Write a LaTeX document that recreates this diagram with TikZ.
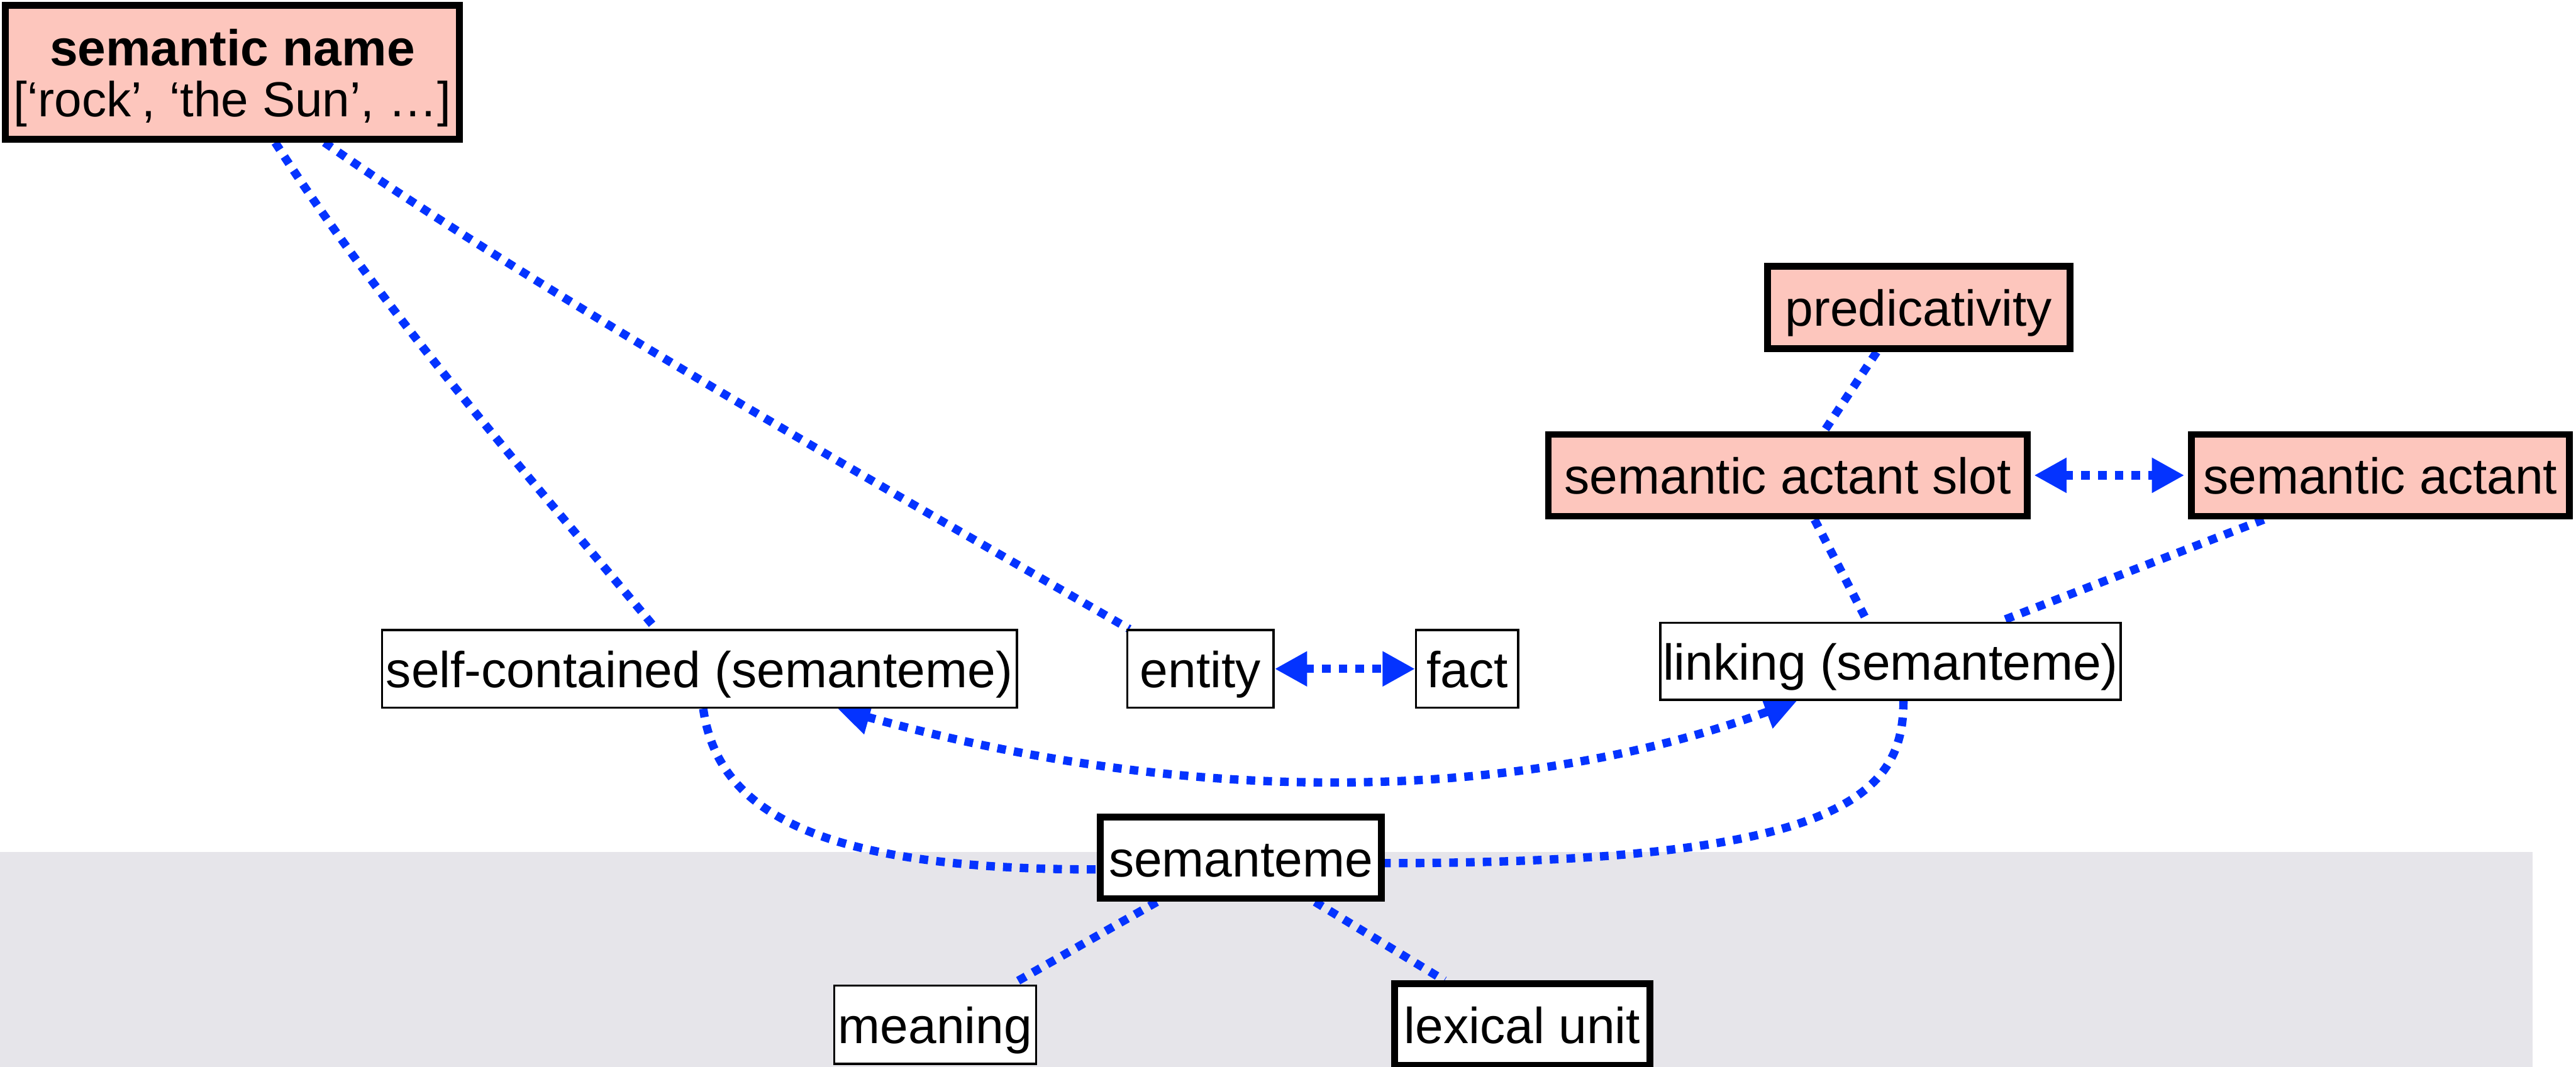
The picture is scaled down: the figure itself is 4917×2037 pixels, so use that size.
\documentclass[tikz,border=0pt]{standalone}
\usepackage{fontspec}
\setmainfont{Liberation Sans}
\usetikzlibrary{arrows.meta,calc}
\definecolor{linkblue}{RGB}{4,51,255}
\definecolor{notepink}{RGB}{253,198,189}
\definecolor{bandgray}{RGB}{230,229,234}
\pgfdeclarelayer{band}
\pgfdeclarelayer{links}
\pgfsetlayers{band,links,main}
\begin{document}
\begin{tikzpicture}[x=0.2pt,y=-0.2pt,
  box/.style={rectangle, inner sep=0pt, fill=white,
    font=\fontsize{19.3}{19.6}\selectfont, text height=14.4pt, text depth=0pt},
  heavy/.style={box, draw=black, line width=2.6pt},
  light/.style={box, draw=black, line width=0.8pt},
  pinkbox/.style={heavy, fill=notepink},
  bluelink/.style={draw=linkblue, line width=3.2pt, dash pattern=on 3.3pt off 3.1pt},
  twotips/.style={{Triangle[length=12.4pt,width=12.6pt]}-{Triangle[length=12.4pt,width=12.6pt]}},
]
\useasboundingbox (0,0) rectangle (4917,2037);

% background and the shaded lower band
\begin{pgfonlayer}{band}
  \fill[white] (0,0) rectangle (4917,2037);
  \fill[bandgray] (0,1627) rectangle (4834,2037);
\end{pgfonlayer}

% concepts
\node[pinkbox, minimum width=173.2pt, minimum height=51pt, text height=34pt, text depth=0pt]
  (sn) at (443.5,138)
  {\begin{tabular}[b]{@{}c@{}}\bfseries semantic name\\\fontsize{18.8}{19.6}\selectfont{[}‘rock’, ‘the Sun’, …{]}\end{tabular}};
\node[pinkbox, minimum width=115.6pt, minimum height=31.4pt] (pred) at (3662.5,587) {predicativity};
\node[pinkbox, minimum width=182.8pt, minimum height=31.2pt] (slot) at (3412.5,907.5) {semantic actant slot};
\node[pinkbox, minimum width=144.4pt, minimum height=31.2pt] (actant) at (4543.5,907.5) {semantic actant};
\node[light, minimum width=242.4pt, minimum height=29.6pt] (selfc) at (1335,1277) {self-contained (semanteme)};
\node[light, minimum width=55.8pt, minimum height=29.6pt] (entity) at (2291.5,1277) {entity};
\node[light, minimum width=39pt, minimum height=29.6pt] (fact) at (2800.5,1277) {fact};
\node[light, minimum width=175.8pt, minimum height=29.4pt] (linking) at (3608.5,1262.5) {linking (semanteme)};
\node[heavy, minimum width=107.2pt, minimum height=31.2pt] (semanteme) at (2368.5,1637.5) {semanteme};
\node[light, minimum width=77.2pt, minimum height=29.8pt] (meaning) at (1785,1956.5) {meaning};
\node[heavy, minimum width=97.6pt, minimum height=31.2pt] (lexical) at (2905.5,1956.5) {lexical unit};

% relations, drawn beneath the boxes
\begin{pgfonlayer}{links}
  \draw[bluelink] ($(sn.south west)!0.593!(sn.south east)$)
    .. controls +(211,328) and +(-250,-300) .. ($(selfc.north west)!0.432!(selfc.north east)$);
  \draw[bluelink] ($(sn.south west)!0.70!(sn.south east)$)
    .. controls +(410,287) and +(-433,-250) .. ($(entity.north west)!0.02!(entity.north east)$);
  \draw[bluelink] ($(pred.south west)!0.364!(pred.south east)$) -- ($(slot.north west)!0.575!(slot.north east)$);
  \draw[bluelink] ($(slot.south west)!0.555!(slot.south east)$) -- ($(linking.north west)!0.45!(linking.north east)$);
  \draw[bluelink] ($(actant.south west)!0.197!(actant.south east)$) -- ($(linking.north west)!0.735!(linking.north east)$);
  \draw[bluelink, twotips, shorten <=1.3pt, shorten >=1.3pt] (slot.east) -- (actant.west);
  \draw[bluelink, twotips] (entity.east) -- (fact.west);
  \draw[bluelink, twotips] ($(selfc.south west)!0.717!(selfc.south east)$)
    .. controls +(663,185) and +(-543,199) .. ($(linking.south west)!0.298!(linking.south east)$);
  \draw[bluelink] ($(selfc.south west)!0.506!(selfc.south east)$)
    .. controls +(28,200) and +(-529,0) .. ($(semanteme.south west)!0.367!(semanteme.north west)$);
  \draw[bluelink] ($(linking.south west)!0.528!(linking.south east)$)
    .. controls +(0,180) and +(875,0) .. ($(semanteme.south east)!0.438!(semanteme.north east)$);
  \draw[bluelink] ($(semanteme.south west)!0.208!(semanteme.south east)$) -- ($(meaning.north west)!0.872!(meaning.north east)$);
  \draw[bluelink] ($(semanteme.south west)!0.758!(semanteme.south east)$) -- ($(lexical.north west)!0.204!(lexical.north east)$);
\end{pgfonlayer}
\end{tikzpicture}
\end{document}
